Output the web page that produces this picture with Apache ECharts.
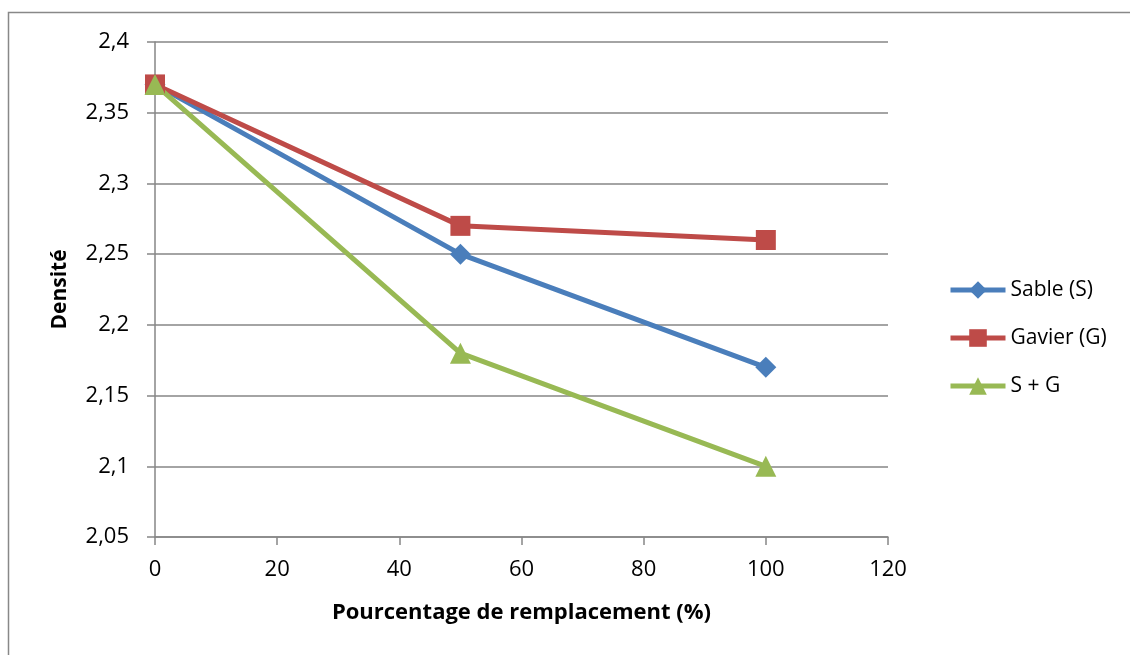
<!DOCTYPE html>
<html>
<head>
<meta charset="utf-8">
<script src="https://cdn.jsdelivr.net/npm/echarts@6/dist/echarts.min.js"></script>
<style>
  html, body { margin: 0; padding: 0; background: #fff; }
  #chart { width: 1130px; height: 655px; }
</style>
</head>
<body>
<div id="chart"></div>
<script>
// replacement percentages (x) and density values per series
const xValues = [0, 50, 100];
const sable = [2.37, 2.25, 2.17];
const gavier = [2.37, 2.27, 2.26];
const sPlusG = [2.37, 2.18, 2.10];
const seriesNames = ['Sable (S)', 'Gavier (G)', 'S + G'];

const colors = ['#4A7EBB', '#BE4B48', '#98B954'];
const font = '"Open Sans", Lato, sans-serif';

const pairs = (ys) => xValues.map((x, i) => [x, ys[i]]);
const fmtComma = (v) => String(+v.toFixed(2)).replace('.', ',');

const chart = echarts.init(document.getElementById('chart'));

const mkSeries = (name, ys, color, symbol, size) => ({
  name,
  type: 'line',
  data: pairs(ys),
  symbol,
  symbolSize: size,
  showAllSymbol: true,
  lineStyle: { color, width: 5 },
  itemStyle: { color, borderWidth: 0 },
  emphasis: { disabled: true }
});

chart.setOption({
  animation: false,
  backgroundColor: '#fff',
  graphic: [{
    type: 'rect',
    shape: { x: 8.5, y: 12.5, width: 1200, height: 700 },
    style: { fill: 'none', stroke: '#888', lineWidth: 1.5 },
    silent: true
  }],
  grid: { left: 155, right: 242, top: 42, bottom: 118 },
  legend: {
    orient: 'vertical',
    left: 943,
    top: 273,
    itemWidth: 55,
    itemHeight: 22,
    itemGap: 24,
    lineStyle: { width: 5 },
    textStyle: { fontFamily: font, fontSize: 21, color: '#000', lineHeight: 24 },
    data: seriesNames
  },
  xAxis: {
    type: 'value',
    min: 0, max: 120, interval: 20,
    name: 'Pourcentage de remplacement (%)',
    nameLocation: 'middle',
    nameGap: 65,
    nameTextStyle: { fontFamily: font, fontSize: 22, fontWeight: 'bold', color: '#000' },
    axisLine: { show: true, lineStyle: { color: '#868686', width: 1.5 } },
    axisTick: { show: true, length: 8, lineStyle: { color: '#868686', width: 1.5 } },
    axisLabel: { fontFamily: font, fontSize: 22, color: '#000', margin: 22 },
    splitLine: { show: false }
  },
  yAxis: {
    type: 'value',
    min: 2.05, max: 2.4, interval: 0.05,
    name: 'Densité',
    nameLocation: 'middle',
    nameGap: 84,
    nameRotate: 90,
    nameTextStyle: { fontFamily: font, fontSize: 21, fontWeight: 'bold', color: '#000' },
    axisLine: { show: true, lineStyle: { color: '#868686', width: 1.5 } },
    axisTick: { show: true, length: 8, lineStyle: { color: '#868686', width: 1.5 } },
    axisLabel: { fontFamily: font, fontSize: 22, color: '#000', margin: 26, formatter: fmtComma },
    splitLine: { show: true, lineStyle: { color: '#868686', width: 1.5 } }
  },
  series: [
    mkSeries(seriesNames[0], sable, colors[0], 'diamond', 21),
    mkSeries(seriesNames[1], gavier, colors[1], 'rect', 20),
    mkSeries(seriesNames[2], sPlusG, colors[2], 'triangle', 21)
  ]
});
</script>
</body>
</html>
